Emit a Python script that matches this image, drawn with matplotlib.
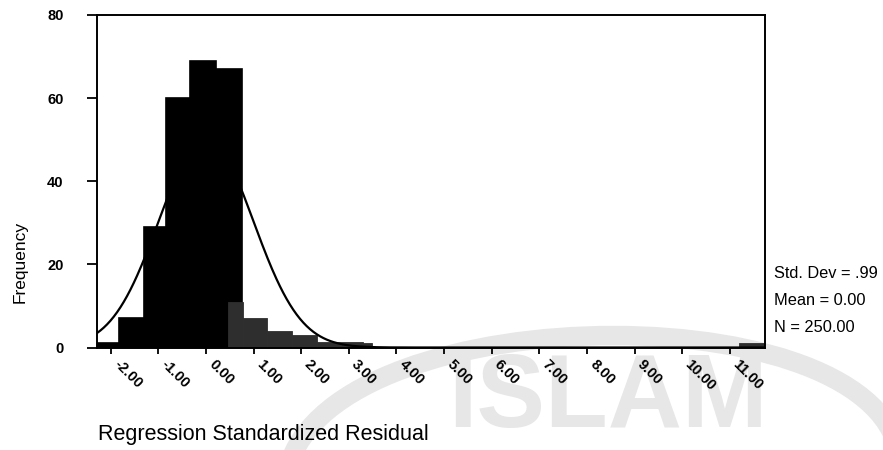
import numpy as np
import matplotlib
matplotlib.use('Agg')
import matplotlib.pyplot as plt
from matplotlib.path import Path
from matplotlib.patches import PathPatch
from matplotlib.transforms import Affine2D, ScaledTranslation

# histogram bins (residual units)
black_left = [-2.29, -1.83, -1.31, -0.84, -0.34, 0.21]
black_right = [-1.83, -1.31, -0.84, -0.34, 0.21, 0.76]
black_counts = [1, 7, 29, 60, 69, 67]

gray_left = [0.46, 0.77, 1.28, 1.80, 2.33, 3.29, 11.20]
gray_right = [0.77, 1.28, 1.80, 2.33, 3.29, 3.48, 11.74]
gray_counts = [11, 7, 4, 3, 1.4, 1, 1.2]

x_ticks = [-2, -1, 0, 1, 2, 3, 4, 5, 6, 7, 8, 9, 10, 11]
x_tick_labels = ['-2.00', '-1.00', '0.00', '1.00', '2.00', '3.00', '4.00', '5.00',
                 '6.00', '7.00', '8.00', '9.00', '10.00', '11.00']
y_ticks = [0, 20, 40, 60, 80]

std_dev = 0.99
mean = 0.00
n = 250
bin_width = 0.5

plt.rcParams['font.family'] = ['Liberation Sans', 'DejaVu Sans']

W, H = 883, 450
fig = plt.figure(figsize=(W / 100, H / 100), dpi=100)
# pixel coords (y down) -> figure coords
pix = Affine2D().scale(1 / W, -1 / H).translate(0, 1) + fig.transFigure

# scan watermark in the background
verts = [(288, 468), (335, 292), (905, 290), (900, 470)]
wm = PathPatch(Path(verts, [Path.MOVETO, Path.CURVE4, Path.CURVE4, Path.CURVE4]),
               transform=pix, fill=False, edgecolor='#e7e7e7', lw=14, zorder=-2)
fig.patches.append(wm)
fig.text(608, 400, 'ISLAM', transform=pix, fontsize=74, fontweight='bold',
         color='#e7e7e7', ha='center', va='center', zorder=-1)

ax = fig.add_axes([97 / W, 1 - 347.5 / H, (765 - 97) / W, (347.5 - 15) / H])
ax.patch.set_visible(False)

ax.bar(black_left, black_counts, width=np.array(black_right) - np.array(black_left),
       align='edge', color='black', edgecolor='black', linewidth=1.2, zorder=2)
ax.bar(gray_left, gray_counts, width=np.array(gray_right) - np.array(gray_left),
       align='edge', color='#2e2e2e', edgecolor='#2e2e2e', linewidth=0.6, zorder=2)

xs = np.linspace(-2.29, 11.74, 600)
curve = n * bin_width / (std_dev * np.sqrt(2 * np.pi)) * np.exp(-0.5 * ((xs - mean) / std_dev) ** 2)
ax.plot(xs, curve, color='black', lw=1.6, zorder=3)

ax.set_xlim(-2.29, 11.74)
ax.set_ylim(0, 80)
for s in ax.spines.values():
    s.set_linewidth(1.4)

ax.set_yticks(y_ticks)
ax.set_yticklabels([str(v) for v in y_ticks], fontsize=10.5, fontweight='bold')
ax.tick_params(axis='y', length=7, width=1.3, pad=17)

ax.set_xticks(x_ticks)
ax.set_xticklabels(x_tick_labels, fontsize=10.5, fontweight='bold', rotation=-45,
                   ha='left', va='top', rotation_mode='anchor')
ax.tick_params(axis='x', length=4, width=1.3, pad=3)
shift = ScaledTranslation(10 / 100, 0, fig.dpi_scale_trans)
for lab in ax.get_xticklabels():
    lab.set_transform(lab.get_transform() + shift)

fig.text(20, 262, 'Frequency', transform=pix, fontsize=12.5, rotation=90,
         ha='center', va='center')
fig.text(98, 440, 'Regression Standardized Residual', transform=pix, fontsize=15.5,
         ha='left', va='baseline')

fig.text(774, 278, 'Std. Dev = %s' % ('%.2f' % std_dev).lstrip('0'), transform=pix,
         fontsize=11.8, va='baseline')
fig.text(774, 305, 'Mean = %.2f' % mean, transform=pix, fontsize=11.8, va='baseline')
fig.text(774, 332, 'N = %.2f' % n, transform=pix, fontsize=11.8, va='baseline')

fig.savefig('out.png', dpi=100)
